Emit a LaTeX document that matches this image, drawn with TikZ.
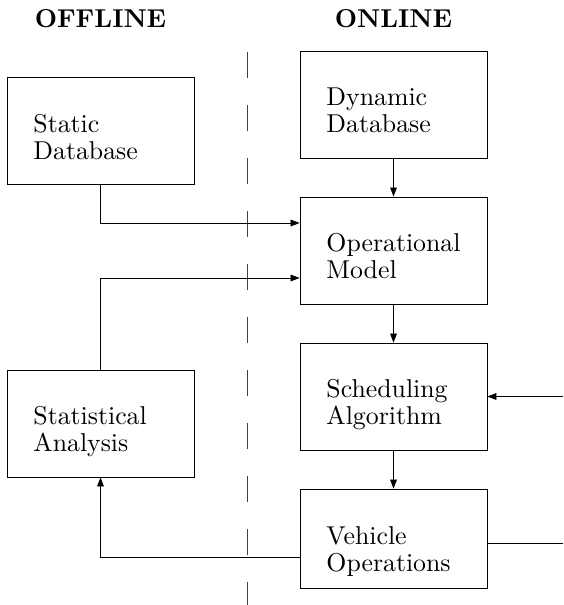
\documentclass[tikz,border=0pt]{standalone}
\usetikzlibrary{arrows.meta}
\begin{document}
\begin{tikzpicture}[
  x=0.3876pt, y=-0.3876pt,
  line width=0.32pt,
  box/.style={draw, rectangle, minimum width=72.48pt, minimum height=41.47pt,
    text width=52pt, inner xsep=10.24pt, inner ysep=0pt, align=left,
    text height=12pt, text depth=11.2pt,
    font=\fontsize{10}{10.5}\selectfont},
  title/.style={font=\bfseries, anchor=base, inner sep=0pt},
  arr/.style={-{Triangle[length=3.5pt,width=2.6pt]}},
  divider/.style={dash pattern=on 10.08pt off 10.47pt, draw=black!75}
]
\useasboundingbox (0,0) rectangle (563,605);

% column headings
\node[title] (offline) at (100.5,28) {OFFLINE};
\node[title] (online)  at (393.5,28) {ONLINE};

% offline / online divider
\draw[divider] (247,52) -- (247,605);

% offline column
\node[box] (sd) at (100.5,131)   {Static\\Database};
\node[box] (sa) at (100.5,423.5) {Statistical\\Analysis};

% online column
\node[box] (dd) at (393.5,104.5) {Dynamic\\Database};
\node[box] (om) at (393.5,250.5) {Operational\\Model};
\node[box] (sc) at (393.5,396.5) {Scheduling\\Algorithm};
\node[box, minimum height=38.37pt, text depth=7.4pt] (vo) at (393.5,538.5) {Vehicle\\Operations};

% free ends at the right border
\coordinate (inR)  at (563,396.5);
\coordinate (outR) at (563,543);

% connectors
\draw[arr] (dd) -- (om);
\draw[arr] (om) -- (sc);
\draw[arr] (sc) -- (vo);
\draw[arr] (sd.south) |- ([yshift=10.66pt]om.west);
\draw[arr] (sa.north) |- ([yshift=-10.66pt]om.west);
\draw[arr] (inR) -- (sc.east);
\draw (vo.east |- outR) -- (outR);
\draw[arr] ([yshift=-7.17pt]vo.west) -| (sa.south);
\end{tikzpicture}
\end{document}
